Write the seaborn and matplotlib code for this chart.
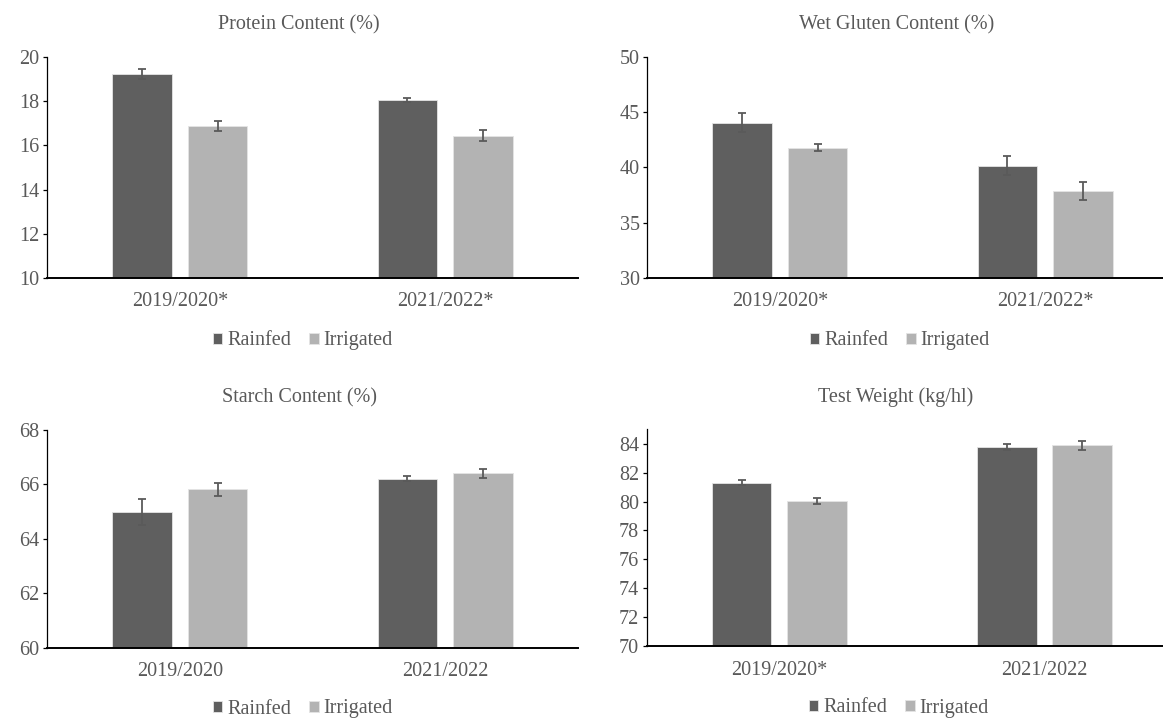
import seaborn as sns
import numpy as np
import pandas as pd
import matplotlib
matplotlib.use("Agg")
import matplotlib.pyplot as plt

# values
treatments = ["Rainfed", "Irrigated"]

protein_seasons = ["2019/2020*", "2021/2022*"]
protein_rainfed = [19.26, 18.05]
protein_irrigated = [16.89, 16.45]
protein_rainfed_err = [0.23, 0.09]
protein_irrigated_err = [0.23, 0.23]

gluten_seasons = ["2019/2020*", "2021/2022*"]
gluten_rainfed = [44.06, 40.18]
gluten_irrigated = [41.79, 37.85]
gluten_rainfed_err = [0.86, 0.82]
gluten_irrigated_err = [0.33, 0.82]

starch_seasons = ["2019/2020", "2021/2022"]
starch_rainfed = [64.98, 66.21]
starch_irrigated = [65.82, 66.41]
starch_rainfed_err = [0.47, 0.09]
starch_irrigated_err = [0.25, 0.17]

weight_seasons = ["2019/2020*", "2021/2022"]
weight_rainfed = [81.30, 83.77]
weight_irrigated = [80.03, 83.88]
weight_rainfed_err = [0.16, 0.18]
weight_irrigated_err = [0.21, 0.29]

sns.set_style("white")
plt.rcParams["font.family"] = ["Liberation Serif", "DejaVu Serif"]
text_grey = "#595959"
palette = {"Rainfed": "#5f5f5f", "Irrigated": "#b3b3b3"}
fs = 14.5

W, H = 1163, 718
fig = plt.figure(figsize=(W / 100, H / 100), dpi=100)

# panel spec: title, seasons, rainfed, irrigated, errors, ylim, yticks,
# axes box in pixels (left, top, right, bottom), title/legend centres in pixels
panels = [
    ("Protein Content (%)", protein_seasons, protein_rainfed, protein_irrigated,
     protein_rainfed_err, protein_irrigated_err, (10, 20), np.arange(10, 21, 2),
     (47.3, 57.3, 577.7, 277.7), (299, 25), (303, 341)),
    ("Wet Gluten Content (%)", gluten_seasons, gluten_rainfed, gluten_irrigated,
     gluten_rainfed_err, gluten_irrigated_err, (30, 50), np.arange(30, 51, 5),
     (647.3, 57.3, 1177.7, 277.7), (897, 25), (900, 341)),
    ("Starch Content (%)", starch_seasons, starch_rainfed, starch_irrigated,
     starch_rainfed_err, starch_irrigated_err, (60, 68), np.arange(60, 69, 2),
     (47.3, 430, 577.7, 647.7), (300, 398), (303, 709)),
    ("Test Weight (kg/hl)", weight_seasons, weight_rainfed, weight_irrigated,
     weight_rainfed_err, weight_irrigated_err, (70, 85), np.arange(70, 85, 2),
     (646.7, 429.3, 1177.1, 646), (896, 397), (899, 708)),
]

for (title, seasons, rainfed, irrigated, rain_err, irr_err, ylim, yticks,
     box, title_pos, legend_pos) in panels:
    l, t, r, b = box
    ax = fig.add_axes([l / W, 1 - b / H, (r - l) / W, (b - t) / H])

    df = pd.DataFrame({
        "Season": seasons * 2,
        "Treatment": ["Rainfed"] * len(seasons) + ["Irrigated"] * len(seasons),
        "Value": rainfed + irrigated,
    })
    sns.barplot(data=df, x="Season", y="Value", hue="Treatment",
                hue_order=treatments, palette=palette, errorbar=None,
                width=0.568, gap=0.21, edgecolor="#e4e4e4", linewidth=0.6,
                saturation=1, ax=ax)

    # error bars on top of each bar
    for container, errs in zip(ax.containers, [rain_err, irr_err]):
        xs = [bar.get_x() + bar.get_width() / 2 for bar in container]
        ys = [bar.get_height() for bar in container]
        ax.errorbar(xs, ys, yerr=errs, fmt="none", ecolor="#5a5a5a",
                    elinewidth=1.3, capsize=3.2, capthick=1.3, zorder=3)

    ax.set_ylim(*ylim)
    ax.set_yticks(yticks)
    ax.set_xlim(-0.5, 1.5)
    ax.set_xlabel("")
    ax.set_ylabel("")

    for side in ["top", "right"]:
        ax.spines[side].set_visible(False)
    ax.spines["left"].set_color("black")
    ax.spines["left"].set_linewidth(0.9)
    ax.spines["bottom"].set_color("black")
    ax.spines["bottom"].set_linewidth(1.4)

    ax.tick_params(axis="y", direction="out", length=3, width=0.9,
                   color="black", pad=2.5, labelsize=fs, labelcolor=text_grey,
                   left=True)
    ax.tick_params(axis="x", length=0, pad=10.5, labelsize=fs,
                   labelcolor=text_grey)

    fig.text(title_pos[0] / W, 1 - title_pos[1] / H, title, ha="center",
             va="center", fontsize=fs, color=text_grey)

    handles, labels = ax.get_legend_handles_labels()
    ax.legend(handles, labels, loc="center", ncol=2, frameon=False,
              bbox_to_anchor=(legend_pos[0] / W, 1 - legend_pos[1] / H),
              bbox_transform=fig.transFigure, fontsize=fs,
              handlelength=0.46, handleheight=0.46, handletextpad=0.25,
              columnspacing=0.9, labelcolor=text_grey)

fig.savefig("out.png", dpi=100)
